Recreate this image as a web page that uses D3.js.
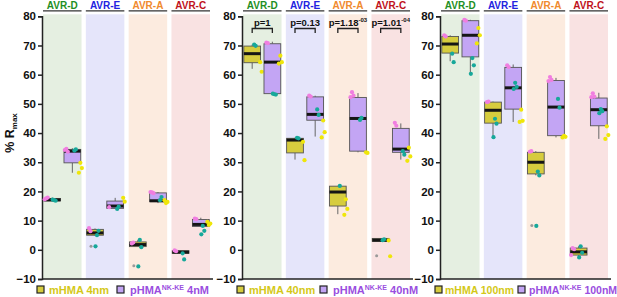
<!DOCTYPE html>
<html>
<head>
<meta charset="utf-8">
<script src="https://cdn.jsdelivr.net/npm/d3@7"></script>
<style>
  body { margin: 0; background: #fff; }
  text { font-family: "Liberation Sans", Arial, sans-serif; font-weight: bold; }
</style>
</head>
<body>
<script>
const W = 617, H = 297;

const targets = ["AVR-D", "AVR-E", "AVR-A", "AVR-C"];
const proteins = ["mHMA", "pHMA"];
const concLabels = [["4nm", "4nM"], ["40nm", "40nM"], ["100nm", "100nM"]];
const pLabels = ["p=1", "p=0.13", "p=1.18", "p=1.01"];
const pExp = ["", "", "-03", "-04"];
const yTicks = [80, 70, 60, 50, 40, 30, 20, 10, 0, -10];

// box stats: [min, q1, median, q3, max] per target
const box4m = [[16.7, 16.8, 17.1, 17.6, 17.9], [4.8, 5.0, 5.8, 7.0, 7.3], [1.0, 1.1, 1.8, 2.7, 3.4], [-1.3, -1.2, -0.8, -0.3, -0.2]];
const box4p = [[26.4, 29.8, 33.8, 34.4, 34.8], [14.0, 14.2, 15.0, 16.7, 17.8], [16.0, 16.5, 16.8, 19.5, 19.8], [7.8, 8.0, 8.7, 10.4, 11.0]];
const box40m = [[62.0, 64.1, 67.2, 69.8, 70.3], [30.9, 33.2, 37.6, 38.2, 38.4], [12.2, 15.0, 19.8, 21.8, 21.9], [2.7, 2.9, 3.3, 3.9, 3.9]];
const box40p = [[53.2, 53.5, 64.3, 70.6, 71.3], [38.8, 44.4, 46.4, 52.4, 52.8], [33.4, 33.8, 45.0, 52.2, 53.7], [30.9, 33.4, 34.5, 41.6, 43.3]];
const box100m = [[64.6, 67.4, 70.5, 73.1, 73.5], [38.7, 43.4, 47.8, 50.6, 50.8], [25.5, 26.0, 30.0, 33.4, 33.8], [-2.6, -1.8, -0.7, 0.6, 1.2]];
const box100p = [[60.3, 66.1, 73.5, 78.5, 78.8], [43.8, 48.2, 55.5, 62.5, 63.5], [38.5, 39.1, 48.9, 58.0, 58.9], [38.0, 42.5, 48.0, 52.0, 53.8]];

// replicate points per target: [pink, teal, yellow, gray]
const pts4m = [
  [[17.6, 17.9, 17.3], [17.0, 16.8, 17.2], [], []],
  [[7.4, 6.4], [5.0, 6.5, 1.2], [], [1.2]],
  [[2.2, 2.5], [3.4, 0.9, -5.7], [], [-5.5]],
  [[-0.2, -0.5], [-1.2, -3.3], [], []]
];
const pts4p = [
  [[34.6, 33.6, 34.2], [34.0, 34.4], [29.8, 28.0, 26.4], []],
  [[14.6], [14.0, 14.8], [17.8, 16.5], []],
  [[19.7, 19.4, 19.8], [17.0, 18.1], [16.0, 16.4, 17.0], []],
  [[10.7, 10.5], [8.2, 6.5, 5.3], [8.5, 9.0, 9.6], []]
];
const pts40m = [
  [[], [70.3, 69.9], [64.3, 61.0], []],
  [[], [38.4, 38.2], [37.0, 30.7], []],
  [[], [21.9], [17.3, 14.0, 12.0], []],
  [[], [3.3, 3.6], [3.2, -2.2], [-2.0]]
];
const pts40p = [
  [[71.0, 70.8], [53.3, 53.2, 53.5], [66.5, 64.3, 63.8], []],
  [[52.8, 52.5], [48.1, 46.2], [44.3, 40.3, 38.5], []],
  [[54.0, 52.8, 52.3], [44.5, 45.2], [33.4, 33.2], []],
  [[43.5, 42.5], [33.8, 32.6], [35.0, 32.0, 30.5], []]
];
const pts100m = [
  [[73.5, 73.1], [67.2, 64.3], [], []],
  [[50.6, 50.8], [44.9, 43.2, 38.6], [], []],
  [[33.6, 33.8], [26.8, 25.5, 8.2], [], [8.3]],
  [[0.6, 0.2, -1.8], [1.2, -1.0, -2.6], [], []]
];
const pts100p = [
  [[78.8, 78.5], [65.7, 63.2, 60.3], [76.0, 73.5, 70.7], []],
  [[63.2, 62.6], [57.2, 55.8, 55.1], [48.0, 44.2, 43.8], []],
  [[59.2, 58.2, 57.8], [51.7, 48.7], [39.0, 38.7, 38.5], []],
  [[53.6, 52.5, 52.3], [48.2, 47.5, 46.8], [42.3, 39.3, 38.0], []]
];

const bandColors = ["#e5efe1", "#e5e5fa", "#fcebdf", "#f9e2e2"];
const headColors = ["#1f8f24", "#2323e0", "#f08a2e", "#c0121c"];
const boxFill = ["#d6cc3e", "#c3a5f4"];
const repColors = ["#f07ee0", "#17a89a", "#efe60a", "#9a9a9a"];
const repDx = [-6, 2, 8, -4];
const legendText = ["#d4c818", "#9a4ee0"];

const panelsX = [42, 242, 440];
const legendPx = [80, 83, 83];
const boxes = [[box4m, box4p], [box40m, box40p], [box100m, box100p]];
const points = [[pts4m, pts4p], [pts40m, pts40p], [pts100m, pts100p]];

const svg = d3.select("body").append("svg").attr("width", W).attr("height", H);

const y = d3.scaleLinear().domain([-10, 80]).range([279, 16.3]);

// y label
const yl = svg.append("text")
  .attr("transform", "translate(14,133) rotate(-90)")
  .attr("text-anchor", "middle")
  .attr("font-size", 12.5)
  .attr("fill", "#111");
yl.append("tspan").text("% R");
yl.append("tspan").attr("font-size", 8).attr("dy", 3).text("max");

panelsX.forEach((x0, pi) => {
  const g = svg.append("g");
  const xb = d3.scaleBand().domain(targets).range([x0 + 1, x0 + 168]).paddingInner(0.1);
  const xs = d3.scaleBand().domain(proteins).range([0, xb.bandwidth()]).paddingInner(0.17).paddingOuter(0.04);

  // background bands
  g.selectAll("rect.band").data(targets).join("rect")
    .attr("x", (d) => xb(d))
    .attr("y", y(80) - 2)
    .attr("width", xb.bandwidth())
    .attr("height", y(-10) - y(80) + 2)
    .attr("fill", (d, i) => bandColors[i]);

  // headers
  g.selectAll("text.head").data(targets).join("text")
    .attr("x", (d) => xb(d) + xb.bandwidth() / 2)
    .attr("y", 9)
    .attr("text-anchor", "middle")
    .attr("font-size", 10)
    .attr("fill", (d, i) => headColors[i])
    .text((d) => d);
  g.selectAll("line.head").data(targets).join("line")
    .attr("x1", (d) => xb(d))
    .attr("x2", (d) => xb(d) + xb.bandwidth())
    .attr("y1", 10.8).attr("y2", 10.8)
    .attr("stroke", "#333").attr("stroke-width", 1.3);

  // axes
  const yAxis = d3.axisLeft(y).tickValues(yTicks).tickSize(4).tickPadding(2);
  const ya = g.append("g").attr("transform", `translate(${x0},0)`).call(yAxis);
  ya.select(".domain").attr("stroke", "#222").attr("stroke-width", 1.5);
  ya.selectAll(".tick line").attr("stroke", "#222").attr("stroke-width", 1.5);
  ya.selectAll(".tick text").attr("font-size", 11.5).attr("fill", "#111")
    .style("font-family", "Liberation Sans, Arial, sans-serif").style("font-weight", "bold");
  g.append("line")
    .attr("x1", x0).attr("x2", x0 + 171)
    .attr("y1", y(-10)).attr("y2", y(-10))
    .attr("stroke", "#222").attr("stroke-width", 1.5);

  proteins.forEach((pr, k) => {
    const stats = boxes[pi][k];
    const pts = points[pi][k];
    const bw = xs.bandwidth();
    targets.forEach((t, ti) => {
      const s = stats[ti];
      const bx = xb(t) + xs(pr);
      const cx = bx + bw / 2;
      // whiskers
      g.append("line").attr("x1", cx).attr("x2", cx).attr("y1", y(s[0])).attr("y2", y(s[1]))
        .attr("stroke", "#666").attr("stroke-width", 1);
      g.append("line").attr("x1", cx).attr("x2", cx).attr("y1", y(s[3])).attr("y2", y(s[4]))
        .attr("stroke", "#666").attr("stroke-width", 1);
      // box
      g.append("rect")
        .attr("x", bx).attr("y", y(s[3]))
        .attr("width", bw).attr("height", Math.max(1, y(s[1]) - y(s[3])))
        .attr("fill", boxFill[k]).attr("stroke", "#555").attr("stroke-width", 0.9);
      // median
      g.append("line").attr("x1", bx).attr("x2", bx + bw)
        .attr("y1", y(s[2])).attr("y2", y(s[2]))
        .attr("stroke", "#151515").attr("stroke-width", 3);
      // replicate points
      pts[ti].forEach((vals, ri) => {
        vals.forEach((v, j) => {
          g.append("circle")
            .attr("cx", cx + repDx[ri] + [0, 1.5, -1.5][j % 3])
            .attr("cy", y(v))
            .attr("r", ri === 3 ? 1.5 : 2.1)
            .attr("fill", repColors[ri]);
        });
      });
    });
  });

  // p-values (middle panel)
  if (pi === 1) {
    targets.forEach((t, ti) => {
      const c1 = xb(t) + xs("mHMA") + xs.bandwidth() / 2;
      const c2 = xb(t) + xs("pHMA") + xs.bandwidth() / 2;
      const pt = g.append("text")
        .attr("x", (c1 + c2) / 2).attr("y", 26)
        .attr("text-anchor", "middle")
        .attr("font-size", 9.5).attr("fill", "#111");
      pt.append("tspan").text(pLabels[ti]);
      if (pExp[ti]) pt.append("tspan").attr("font-size", 6).attr("dy", -4).text(pExp[ti]);
      g.append("path")
        .attr("d", `M${c1},${33}V${28.5}H${c2}V${33}`)
        .attr("fill", "none").attr("stroke", "#222").attr("stroke-width", 1.3);
    });
  }

  // legend
  const fs = pi === 2 ? 10.5 : 11;
  const lg = g.append("g").attr("transform", `translate(${x0 - 5},0)`);
  lg.append("rect").attr("x", 0).attr("y", 286).attr("width", 7).attr("height", 7)
    .attr("fill", boxFill[0]).attr("stroke", "#222").attr("stroke-width", 1.2);
  lg.append("text").attr("x", pi === 2 ? 10 : 12).attr("y", 294).attr("font-size", fs)
    .attr("fill", legendText[0]).text("mHMA " + concLabels[pi][0]);
  const px = legendPx[pi];
  lg.append("rect").attr("x", px).attr("y", 286).attr("width", 7).attr("height", 7)
    .attr("fill", boxFill[1]).attr("stroke", "#222").attr("stroke-width", 1.2);
  const lt = lg.append("text").attr("x", px + (pi === 2 ? 11 : 13)).attr("y", 294).attr("font-size", fs)
    .attr("fill", legendText[1]);
  lt.append("tspan").text("pHMA");
  lt.append("tspan").attr("font-size", 7).attr("dy", -4).text("NK-KE");
  lt.append("tspan").attr("dy", 4).text(" " + concLabels[pi][1]);
});
</script>
</body>
</html>
